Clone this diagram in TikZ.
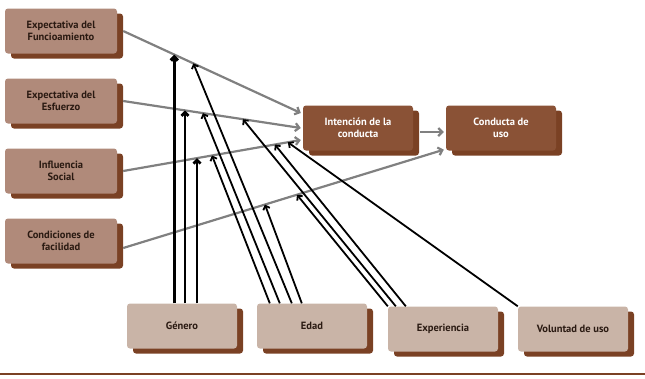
\documentclass[tikz,border=0pt]{standalone}
\usepackage{fontspec}
\setmainfont{PT Sans}
\usepackage{tikz}
\usetikzlibrary{arrows.meta,shadows}
\definecolor{FaceBrown}{HTML}{B08A7A}
\definecolor{PaleBrown}{HTML}{C9B4A7}
\definecolor{DarkBrown}{HTML}{8A5236}
\definecolor{ShadowBrown}{HTML}{7A4124}
\definecolor{InkBrown}{HTML}{2A1A12}
\definecolor{LineGray}{HTML}{808080}

\begin{document}
\begin{tikzpicture}[
  x=1pt,y=-1pt,
  box/.style={rounded corners=3pt,minimum width=112pt,minimum height=45pt,inner sep=0pt,align=center,font=\fontsize{10.5}{12}\selectfont\bfseries,drop shadow={shadow xshift=6pt,shadow yshift=-5pt,fill=ShadowBrown,opacity=1}},
  factor/.style={box,fill=FaceBrown,text=InkBrown},
  moder/.style={box,fill=PaleBrown,text=InkBrown,minimum width=110pt},
  result/.style={box,fill=DarkBrown,text=white,minimum width=110pt},
  inf/.style={-{Straight Barb[length=4pt,width=8pt]},line width=2.2pt,draw=LineGray},
  mod/.style={-{Straight Barb[length=3.5pt,width=7pt]},line width=1.8pt,draw=black}
]
\useasboundingbox (0,0) rectangle (645,378);
\node[factor] (fe) at (61,31) {Expectativa del\\Funcioamiento};
\node[factor] (fs) at (61,101) {Expectativa del\\Esfuerzo};
\node[factor] (soc) at (61,171) {Influencia\\Social};
\node[factor] (fac) at (61,241) {Condiciones de\\facilidad};
\node[result] (int) at (358,128) {Intención de la\\conducta};
\node[result] (con) at (501,128) {Conducta de\\uso};
\node[moder] (gen) at (182,326) {Género};
\node[moder] (edad) at (312,326) {Edad};
\node[moder] (exp) at (443,329) {Experiencia};
\node[moder] (vol) at (573,329) {Voluntad de uso};
% determinantes -> intencion
\draw[inf] ([xshift=6pt]fe.east) -- coordinate[pos=.288] (fe-gen) coordinate[pos=.395] (fe-edad) ([xshift=-2pt,yshift=15pt]int.west);
\draw[inf] ([xshift=6pt]fs.east) -- coordinate[pos=.348] (fs-gen) coordinate[pos=.449] (fs-edad) coordinate[pos=.674] (fs-exp) ([xshift=-2pt]int.west);
\draw[inf] ([xshift=6pt]soc.east) -- coordinate[pos=.416] (soc-gen) coordinate[pos=.5] (soc-edad) coordinate[pos=.854] (soc-exp) coordinate[pos=.927] (soc-vol) ([xshift=-2pt,yshift=-12pt]int.west);
\draw[inf] ([xshift=6pt,yshift=-7pt]fac.east) -- coordinate[pos=.442] (fac-edad) coordinate[pos=.542] (fac-exp) ([xshift=-2pt,yshift=1pt]con.south west);
\draw[inf] ([xshift=7pt,yshift=-4pt]int.east) -- ([xshift=-2pt,yshift=-4pt]con.west);
% moderadores
\draw[mod,line width=3.4pt] (gen.north -| fe-gen) -- (fe-gen);
\draw[mod,line width=2.8pt] (gen.north -| fs-gen) -- (fs-gen);
\draw[mod,line width=2.8pt] (gen.north -| soc-gen) -- (soc-gen);
\draw[mod] ([xshift=13pt]edad.north west) -- (soc-edad);
\draw[mod] ([xshift=23pt]edad.north west) -- (fs-edad);
\draw[mod] ([xshift=35pt]edad.north west) -- (fe-edad);
\draw[mod] ([xshift=45pt]edad.north west) -- (fac-edad);
\draw[mod] (exp.north west) -- (fac-exp);
\draw[mod] ([xshift=8pt]exp.north west) -- (fs-exp);
\draw[mod] ([xshift=18pt]exp.north west) -- (soc-exp);
\draw[mod] (vol.north west) -- (soc-vol);
\draw[ShadowBrown,line width=1.5pt] (0,374) -- (645,374);
\end{tikzpicture}
\end{document}
